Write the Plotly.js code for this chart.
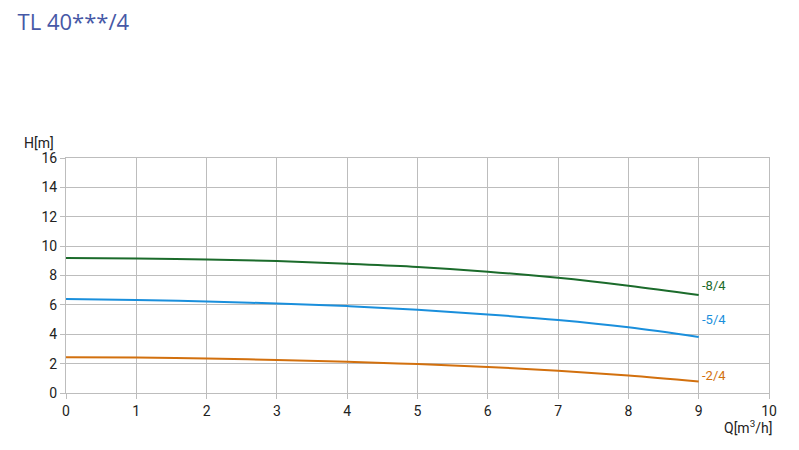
<!DOCTYPE html>
<html><head><meta charset="utf-8">
<script src="https://cdn.plot.ly/plotly-3.0.1.min.js"></script>
<style>body{margin:0;padding:0;background:#fff}#chart{width:799px;height:450px}</style>
</head><body><div id="chart"></div>
<script>
const q = [0, 1, 2, 3, 4, 5, 6, 7, 8, 9];
const h84 = [9.19, 9.16, 9.09, 8.99, 8.8, 8.58, 8.26, 7.84, 7.3, 6.67];
const h54 = [6.4, 6.33, 6.23, 6.09, 5.92, 5.67, 5.35, 4.97, 4.47, 3.81];
const h24 = [2.44, 2.41, 2.35, 2.25, 2.12, 1.97, 1.77, 1.52, 1.19, 0.78];
const names = ["-8/4", "-5/4", "-2/4"];
const colors = ["#1b6b2b", "#1a8fdc", "#d2700e"];
const labelY = [7.3, 5.03, 1.22];
const series = [h84, h54, h24];

const traces = series.map((s, i) => ({
  x: q, y: s, type: 'scatter', mode: 'lines', line: {shape: 'spline', color: colors[i], width: 2}, name: names[i], hoverinfo: 'skip'
}));
const annotations = names.map((n, i) => ({
  x: 9, y: labelY[i], xref: 'x', yref: 'y', text: n, showarrow: false, xanchor: 'left', xshift: 1,
  font: {family: 'Roboto', size: 13, color: colors[i]}
}));
annotations.push({x: 0, y: 16, xref: 'x', yref: 'y', text: 'H[m]', showarrow: false, xanchor: 'right', yanchor: 'bottom', xshift: -10, yshift: 5, font: {family: 'Roboto', size: 14, color: '#222'}});
annotations.push({x: 10, y: 0, xref: 'x', yref: 'y', text: 'Q[m<sup>3</sup>/h]', showarrow: false, xanchor: 'right', yanchor: 'top', xshift: 5, yshift: -23, font: {family: 'Roboto', size: 14, color: '#222'}});

const layout = {
  width: 799, height: 450,
  margin: {l: 66, r: 30, t: 158, b: 57},
  paper_bgcolor: '#fff', plot_bgcolor: '#fff',
  showlegend: false,
  title: {text: 'TL 40***/4', x: 0.022, xanchor: 'left', y: 0.95, yanchor: 'middle', font: {family: 'Open Sans', size: 22, color: '#4658a6'}},
  xaxis: {range: [0, 10], dtick: 1, tick0: 0, showgrid: true, gridcolor: '#bdbdbd', gridwidth: 1, zeroline: false,
    showline: true, linecolor: '#bdbdbd', mirror: true, ticks: 'outside', ticklen: 5, tickcolor: '#bdbdbd',
    tickfont: {family: 'Roboto', size: 14, color: '#222'}, fixedrange: true},
  yaxis: {range: [0, 16], dtick: 2, tick0: 0, showgrid: true, gridcolor: '#bdbdbd', gridwidth: 1, zeroline: false,
    showline: true, linecolor: '#bdbdbd', mirror: true, ticks: 'outside', ticklen: 5, tickcolor: '#bdbdbd',
    tickfont: {family: 'Roboto', size: 14, color: '#222'}, fixedrange: true},
  annotations: annotations
};
Plotly.newPlot('chart', traces, layout, {displayModeBar: false, staticPlot: true});
</script></body></html>
